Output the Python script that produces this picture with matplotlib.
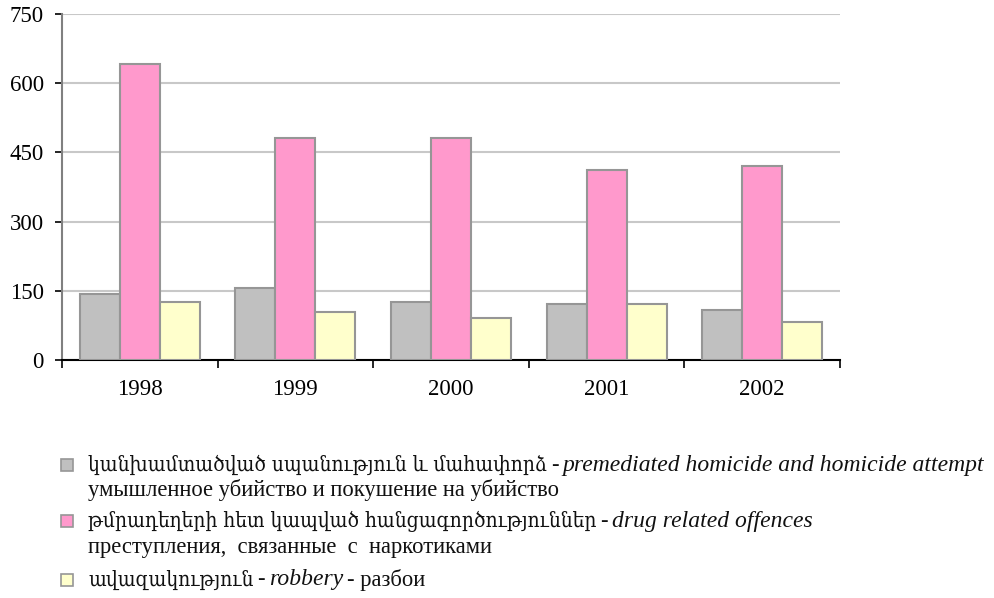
import numpy as np
import matplotlib
matplotlib.use('Agg')
import matplotlib.pyplot as plt
from matplotlib.patches import Rectangle

# data
years = ['1998', '1999', '2000', '2001', '2002']
homicide = [143, 156, 125, 121, 108]
drugs = [641, 481, 481, 411, 420]
robbery = [126, 103, 91, 121, 82]
y_ticks = [0, 150, 300, 450, 600, 750]

colors = ['#c0c0c0', '#ff99cc', '#ffffcc']
edge = '#969696'
serif = ['Liberation Serif', 'DejaVu Serif']

# (text, kind) where kind: 'hy' armenian, 'ru' upright, 'it' italic english
legend_lines = [
    [('կանխամտածված սպանություն և մահափորձ', 'hy'), ('-', 'ru'), ('premediated homicide and homicide attempt', 'it')],
    [('умышленное убийство и покушение на убийство', 'ru')],
    [('թմրադեղերի հետ կապված հանցագործություններ', 'hy'), ('-', 'ru'), ('drug related offences', 'it')],
    [('преступления,  связанные  с  наркотиками', 'ru')],
    [('ավազակություն', 'hy'), ('-', 'ru'), ('robbery', 'it'), ('- разбои', 'ru')],
]
legend_y = [465, 490, 521, 547, 580]   # pixel rows (from top)
swatch_rows = {0: 0, 2: 1, 4: 2}
styles = {
    'hy': dict(fontfamily=['DejaVu Serif'], fontsize=15, fontstretch='condensed'),
    'ru': dict(fontfamily=serif, fontsize=16.3),
    'it': dict(fontfamily=serif, fontsize=17, fontstyle='italic'),
}

W, H = 995, 598
fig = plt.figure(figsize=(W / 100, H / 100), dpi=100)
ax = fig.add_axes([62 / W, 1 - 360 / H, (840 - 62) / W, (360 - 14) / H])

x = np.arange(len(years))
bw = 0.257
for k, vals in enumerate([homicide, drugs, robbery]):
    ax.bar(x + (k - 1) * bw, vals, width=bw, color=colors[k], edgecolor=edge, linewidth=1.5, zorder=3)

ax.set_xlim(-0.5, len(years) - 0.5)
ax.set_ylim(0, 750)
ax.set_yticks(y_ticks)
ax.set_yticklabels([str(v) for v in y_ticks], fontfamily=serif, fontsize=16.5)
ax.set_xticks(x)
ax.set_xticklabels(years, fontfamily=serif, fontsize=16.5)
ax.set_xticks(np.arange(len(years) + 1) - 0.5, minor=True)
ax.tick_params(axis='x', which='major', length=0, pad=14)
ax.tick_params(axis='x', which='minor', length=6, width=1.2, color='black')
ax.tick_params(axis='y', length=5, width=1.2, color='black', pad=8)
ax.yaxis.grid(True, color='#c8c8c8', linewidth=1.5, zorder=0)
ax.set_axisbelow(True)
for s in ['top', 'right']:
    ax.spines[s].set_visible(False)
ax.spines['left'].set_color('#808080')
ax.spines['left'].set_linewidth(1.5)
ax.spines['bottom'].set_color('black')
ax.spines['bottom'].set_linewidth(1.5)

# legend drawn by hand: mixed upright / italic text on one line
fig.canvas.draw()
renderer = fig.canvas.get_renderer()
gap = 4
for i, pieces in enumerate(legend_lines):
    ypix = H - legend_y[i]
    xpix = 88
    for txt, kind in pieces:
        t = fig.text(xpix / W, ypix / H, txt, va='center', ha='left', color='#111111', **styles[kind])
        bb = t.get_window_extent(renderer)
        xpix = bb.x1 + gap
    if i in swatch_rows:
        c = colors[swatch_rows[i]]
        fig.patches.append(Rectangle((61 / W, (ypix - 6) / H), 12 / W, 12 / H,
                                     transform=fig.transFigure, facecolor=c,
                                     edgecolor=edge, linewidth=1.2))

fig.savefig('out.png', dpi=100)
